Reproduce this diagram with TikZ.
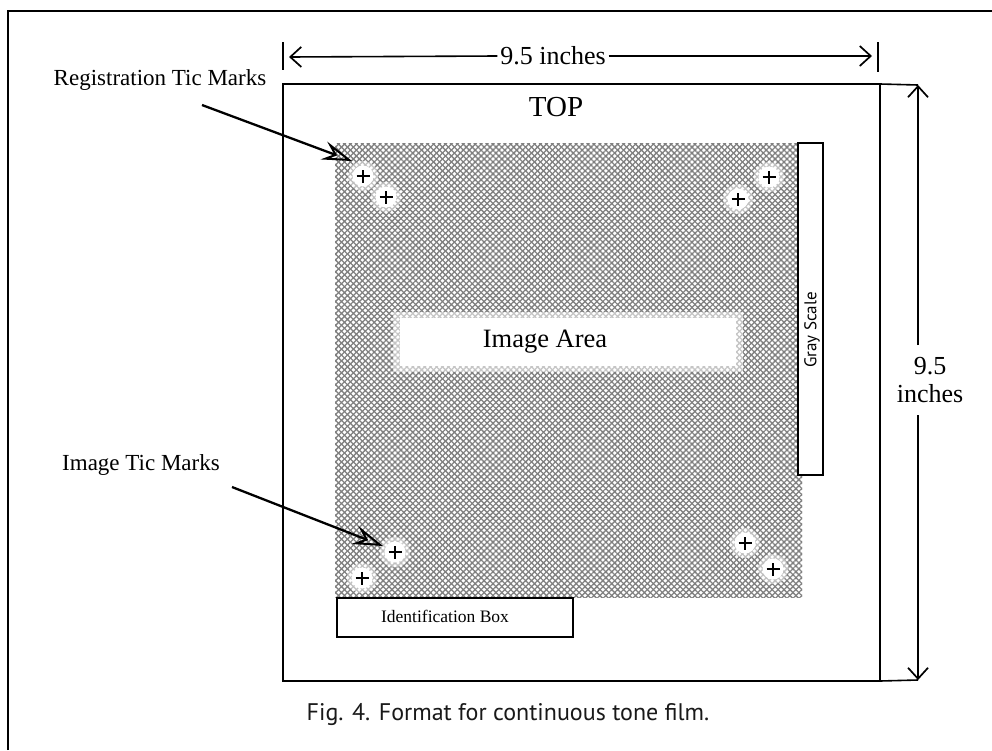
\documentclass[tikz,border=0pt]{standalone}
\usepackage{fontspec}
\setmainfont{Liberation Serif}
\newfontfamily\capfont{PT Sans}
\usetikzlibrary{arrows.meta,patterns.meta}
\tikzset{
  box/.style={draw, line width=1.6pt, inner sep=0pt, outer sep=0pt},
  lbl/.style={inner sep=0pt, outer sep=0pt},
  halo/.style={circle, fill=white, inner sep=0pt, minimum size=22pt,
    preaction={fill=white, fill opacity=0.5, circle, minimum size=30pt}},
  softhalo/.style={circle, fill=white, fill opacity=0.5, inner sep=0pt, minimum size=30pt},
  tic/.style={circle, inner sep=0pt, minimum size=14pt,
    path picture={\draw[line width=1.6pt]
      ([xshift=-6.5pt]path picture bounding box.center) -- ([xshift=6.5pt]path picture bounding box.center)
      ([yshift=-6.5pt]path picture bounding box.center) -- ([yshift=6.5pt]path picture bounding box.center);}},
  dimline/.style={line width=1.6pt},
  dimarrow/.style={line width=1.6pt, -{Straight Barb[length=11pt,width=20pt,line width=1.7pt]}},
  pointer/.style={line width=2.3pt, -{Stealth[open,length=30pt,width=19pt,inset=11pt,line width=2pt]}},
  mesh/.style={fill=black!12,
    preaction={pattern={Lines[angle=45,distance=4.2pt,line width=1.3pt]}, pattern color=black!50},
    pattern={Lines[angle=-45,distance=4.2pt,line width=1.3pt]}, pattern color=black!50}
}
\begin{document}
\begin{tikzpicture}[x=1pt,y=-1pt]
\useasboundingbox (0,0) rectangle (992,750);
\fill[white] (0,0) rectangle (992,750);
% outer frame
\draw[line width=1.4pt] (8,750) -- (8,11) -- (992,11);

% film square
\node[box, line width=2.4pt, minimum width=597pt, minimum height=597pt] (film) at (581.5,382.5) {};
\node[lbl, font=\fontsize{29}{30}\selectfont] (top) at (556,107) {TOP};

% image area (meshed)
\node[inner sep=0pt, outer sep=0pt, mesh, minimum width=467pt, minimum height=454pt] (img) at (568.5,370) {};
\node[fill=white, fill opacity=0.55, inner sep=0pt, minimum width=350pt, minimum height=60pt] (areahalo) at (568,342) {};
\node[fill=white, inner sep=0pt, minimum width=336pt, minimum height=48pt] (areabox) at (568,342) {};
\node[lbl, font=\fontsize{26.5}{28}\selectfont] (area) at (545,342) {Image Area};

% gray scale
\node[box, line width=1.5pt, fill=white, minimum width=25pt, minimum height=332pt] (gray) at (810.5,309) {};
\node[lbl, rotate=90, font=\capfont\fontsize{17}{18}\selectfont] (graytxt) at (812,330) {Gray Scale};

% identification box
\node[box, line width=1.5pt, fill=white, minimum width=236pt, minimum height=39pt] (idbox) at (455,617.5) {};
\node[lbl, font=\fontsize{17.5}{18}\selectfont] (idtxt) at (445,616) {Identification Box};

% tic marks with white halos
\foreach \n/\p in {r1/{(363,176)}, r2/{(386,197)}, r3/{(769,177)}, r4/{(738,199)},
                   i1/{(395,552)}, i2/{(362,578)}, i3/{(745,543)}, i4/{(773,569)}}{
  \node[softhalo] (s\n) at \p {};
  \node[circle, fill=white, inner sep=0pt, minimum size=21pt] (h\n) at \p {};
  \node[tic] (\n) at \p {};
}

% labels and pointers
\node[lbl, font=\fontsize{23}{24}\selectfont] (reg) at (160,80) {Registration Tic Marks};
\node[lbl, font=\fontsize{23}{24}\selectfont] (imt) at (141,465) {Image Tic Marks};
\coordinate (regfrom) at (202,105);
\coordinate (regto) at (352,161);
\coordinate (imfrom) at (232,487);
\coordinate (imto) at (383,546);
\draw[pointer] (regfrom) -- (regto);
\draw[pointer] (imfrom) -- (imto);

% horizontal dimension
\coordinate (tlA) at (283,42);
\coordinate (tlB) at (283,70);
\coordinate (trA) at (878,42);
\coordinate (trB) at (878,72);
\draw[dimline] (tlA) -- (tlB);
\draw[dimline] (trA) -- (trB);
\node[lbl, fill=white, inner xsep=3pt, font=\fontsize{26}{27}\selectfont] (wlab) at (553,56) {9.5 inches};
\coordinate (hL) at (289,57);
\coordinate (hR) at (872,56);
\draw[dimarrow] (wlab.west) -- (hL);
\draw[dimarrow] (wlab.east) -- (hR);

% vertical dimension
\coordinate (vT) at (918,85);
\coordinate (vB) at (918,680);
\draw[dimline] (film.north east) -- (vT);
\draw[dimline] (film.south east) -- (vB);
\node[lbl, align=center, font=\fontsize{26}{28}\selectfont] (hlab) at (930,380) {9.5\\inches};
\coordinate (vTs) at (918,345);
\coordinate (vBs) at (918,415);
\draw[dimarrow] (vTs) -- (vT);
\draw[dimarrow] (vBs) -- (vB);

% caption
\node[lbl, font=\capfont\fontsize{24}{25}\selectfont, text=black!90] (cap) at (508,714) {Fig. 4. Format for continuous tone film.};
\end{tikzpicture}
\end{document}
